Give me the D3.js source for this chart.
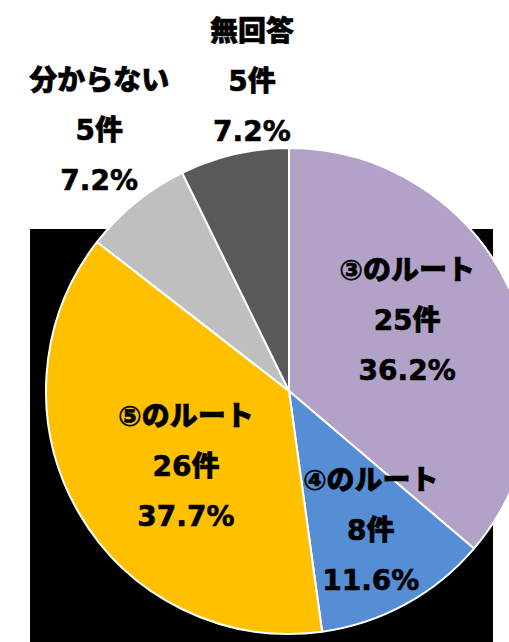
<!DOCTYPE html>
<html>
<head>
<meta charset="utf-8">
<script src="https://cdn.jsdelivr.net/npm/d3@7"></script>
<style>
  html, body { margin: 0; padding: 0; background: #fff; }
  svg { display: block; }
</style>
</head>
<body>
<svg id="chart" width="509" height="642"></svg>
<script>
// ---- data ----
const categories = ["③のルート", "④のルート", "⑤のルート", "分からない", "無回答"];
const counts = [25, 8, 26, 5, 5];
const percents = ["36.2%", "11.6%", "37.7%", "7.2%", "7.2%"];
const colors = ["#B3A2C7", "#558ED5", "#FFC000", "#BFBFBF", "#595959"];

// ---- layout ----
const W = 509, H = 642;
const cx = 289, cy = 391, R = 243;
const svg = d3.select("#chart");

svg.append("rect").attr("x", 0).attr("y", 0).attr("width", W).attr("height", H).attr("fill", "#fff");
// dark backdrop behind the pie
svg.append("rect").attr("x", 30).attr("y", 229).attr("width", 463).attr("height", H - 229).attr("fill", "#000");

const pie = d3.pie().sort(null).value(d => d.count);
const arc = d3.arc().innerRadius(0).outerRadius(R);
const rows = categories.map((c, i) => ({ cat: c, count: counts[i], pct: percents[i], color: colors[i] }));
const arcs = pie(rows);

const g = svg.append("g").attr("transform", `translate(${cx},${cy})`);
g.selectAll("path.slice").data(arcs).enter().append("path")
  .attr("class", "slice")
  .attr("d", arc)
  .attr("fill", d => d.data.color)
  .attr("stroke", "#fff")
  .attr("stroke-width", 2)
  .attr("stroke-linejoin", "round");

// label placement: angle shift (deg) from slice mid-angle, and radius factor
const placement = [[-6.2, 0.567], [-1.6, 0.667], [-6.4, 0.527], [3.1, 1.328], [6.2, 1.281]];
const lineGap = 50;

const labels = g.selectAll("g.lbl").data(arcs).enter().append("g").attr("class", "lbl")
  .attr("transform", (d, i) => {
    const a = (d.startAngle + d.endAngle) / 2 + placement[i][0] * Math.PI / 180;
    const r = placement[i][1] * R;
    return `translate(${r * Math.sin(a)},${-r * Math.cos(a)})`;
  });

labels.each(function(d) {
  const lines = [d.data.cat, d.data.count + "件", d.data.pct];
  d3.select(this).selectAll("text").data(lines).enter().append("text")
    .attr("x", 0)
    .attr("y", (t, j) => (j - 1) * lineGap)
    .attr("text-anchor", "middle")
    .attr("dominant-baseline", "central")
    .attr("font-family", "'DejaVu Sans', 'Noto Sans CJK JP', sans-serif")
    .attr("font-weight", 900)
    .attr("font-size", 28)
    .attr("fill", "#000")
    .attr("stroke", "#000")
    .attr("stroke-width", 0.6)
    .text(t => t);
});
</script>
</body>
</html>
